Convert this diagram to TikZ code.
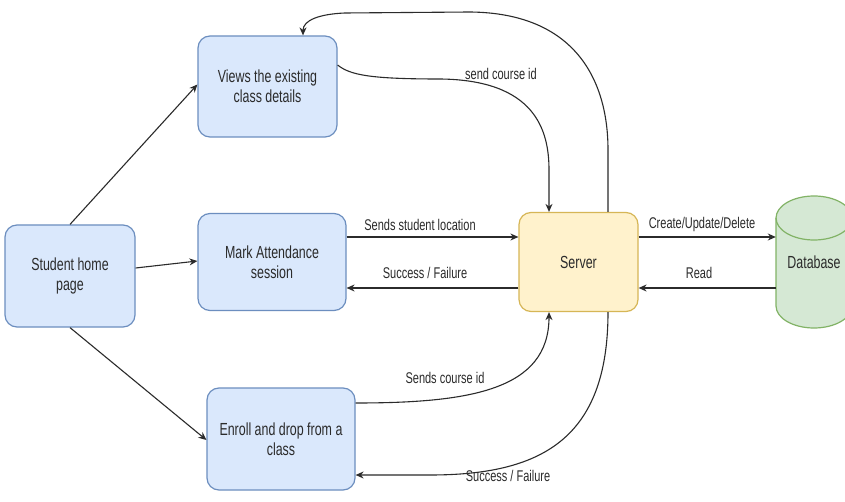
\documentclass[tikz,border=0pt]{standalone}
\usepackage{fontspec}
\setmainfont{Liberation Sans}
\newfontfamily\narrowsans[FakeStretch=0.71]{Liberation Sans}
\usetikzlibrary{arrows.meta}
\definecolor{bluefill}{HTML}{DAE8FC}
\definecolor{blueline}{HTML}{6C8EBF}
\definecolor{yelfill}{HTML}{FFF2CC}
\definecolor{yelline}{HTML}{D6B656}
\definecolor{grnfill}{HTML}{D5E8D4}
\definecolor{grnline}{HTML}{82B366}
\definecolor{ink}{HTML}{2B2B2B}

\begin{document}
\begin{tikzpicture}[x=1pt,y=-1pt,
  box/.style={draw=blueline, fill=bluefill, line width=1.2pt, rounded corners=12pt,
    align=center, font=\narrowsans\fontsize{17.5}{20}\selectfont, text=ink, inner sep=0pt},
  srvbox/.style={box, draw=yelline, fill=yelfill},
  flow/.style={draw=ink, line width=1.1pt, -{Stealth[length=8pt,width=7pt]}},
  lbl/.style={font=\narrowsans\fontsize{15.5}{18}\selectfont, text=ink, inner sep=0pt}]

\clip (0,0) rectangle (845,502);
\fill[white] (0,0) rectangle (845,502);

% client-side pages
\node[box, minimum width=130pt, minimum height=102pt] (st) at (70,276) {Student home\\page};
\node[box, minimum width=139pt, minimum height=101pt] (vw) at (267.5,86.5) {Views the existing\\class details};
\node[box, minimum width=148pt, minimum height=97pt] (mk) at (272,262) {Mark Attendance\\session};
\node[box, minimum width=148pt, minimum height=102pt] (en) at (281,439) {Enroll and drop from a\\class};

% server
\node[srvbox, minimum width=119pt, minimum height=99pt] (srv) at (578.5,262) {Server};

% database cylinder
\path[draw=grnline, fill=grnfill, line width=1.2pt]
  (776,218) -- (776,306)
  arc[start angle=180, end angle=360, x radius=38pt, y radius=22pt]
  -- (852,218)
  arc[start angle=0, end angle=180, x radius=38pt, y radius=22pt] -- cycle;
\draw[grnline, line width=1.2pt] (776,218)
  arc[start angle=180, end angle=360, x radius=38pt, y radius=22pt];
\node[lbl, font=\narrowsans\fontsize{17.5}{20}\selectfont, minimum width=76pt, minimum height=132pt] (db) at (814,262) {Database};

% navigation from the home page
\draw[flow] (st.north) -- ([yshift=2pt]vw.west);
\draw[flow] ([yshift=8pt]st.east) -- ([yshift=1pt]mk.west);
\draw[flow] (st.south) -- ([yshift=-1pt]en.west);

% attendance exchange
\draw[flow] ([yshift=25pt]mk.east) -- ([yshift=25pt]srv.west);
\draw[flow] ([yshift=-26pt]srv.west) -- ([yshift=-26pt]mk.east);

% database exchange
\draw[flow] ([yshift=25pt]srv.east) -- ([yshift=25pt]db.west);
\draw[flow] ([yshift=-26pt]db.west) -- ([yshift=-26pt]srv.east);

% class details exchange
\draw[flow] ([yshift=21.5pt]vw.east) .. controls (350,75) and (370,79) .. (440,79)
  .. controls (535,80) and (549,130) .. (549,170) -- ([xshift=-29.5pt]srv.north);
\draw[flow] ([xshift=29.5pt]srv.north) -- (608,150) .. controls (608,80) and (575,13) .. (470,12)
  -- (345,13) .. controls (320,14) and (303,20) .. ([xshift=35.5pt]vw.north);

% enrolment exchange
\draw[flow] ([yshift=36pt]en.east) .. controls (470,403) and (549,390) .. ([xshift=-29.5pt]srv.south);
\draw[flow] ([xshift=29.5pt]srv.south) .. controls (608,440) and (540,475) .. (430,475)
  -- ([yshift=-36pt]en.east);

% edge labels
\node[lbl] (l1) at (501,74) {send course id};
\node[lbl] (l2) at (420,225) {Sends student location};
\node[lbl] (l3) at (425,273) {Success / Failure};
\node[lbl] (l4) at (445,378) {Sends course id};
\node[lbl] (l5) at (508,476) {Success / Failure};
\node[lbl] (l6) at (702,224) {Create/Update/Delete};
\node[lbl] (l7) at (699,273) {Read};
\end{tikzpicture}
\end{document}
